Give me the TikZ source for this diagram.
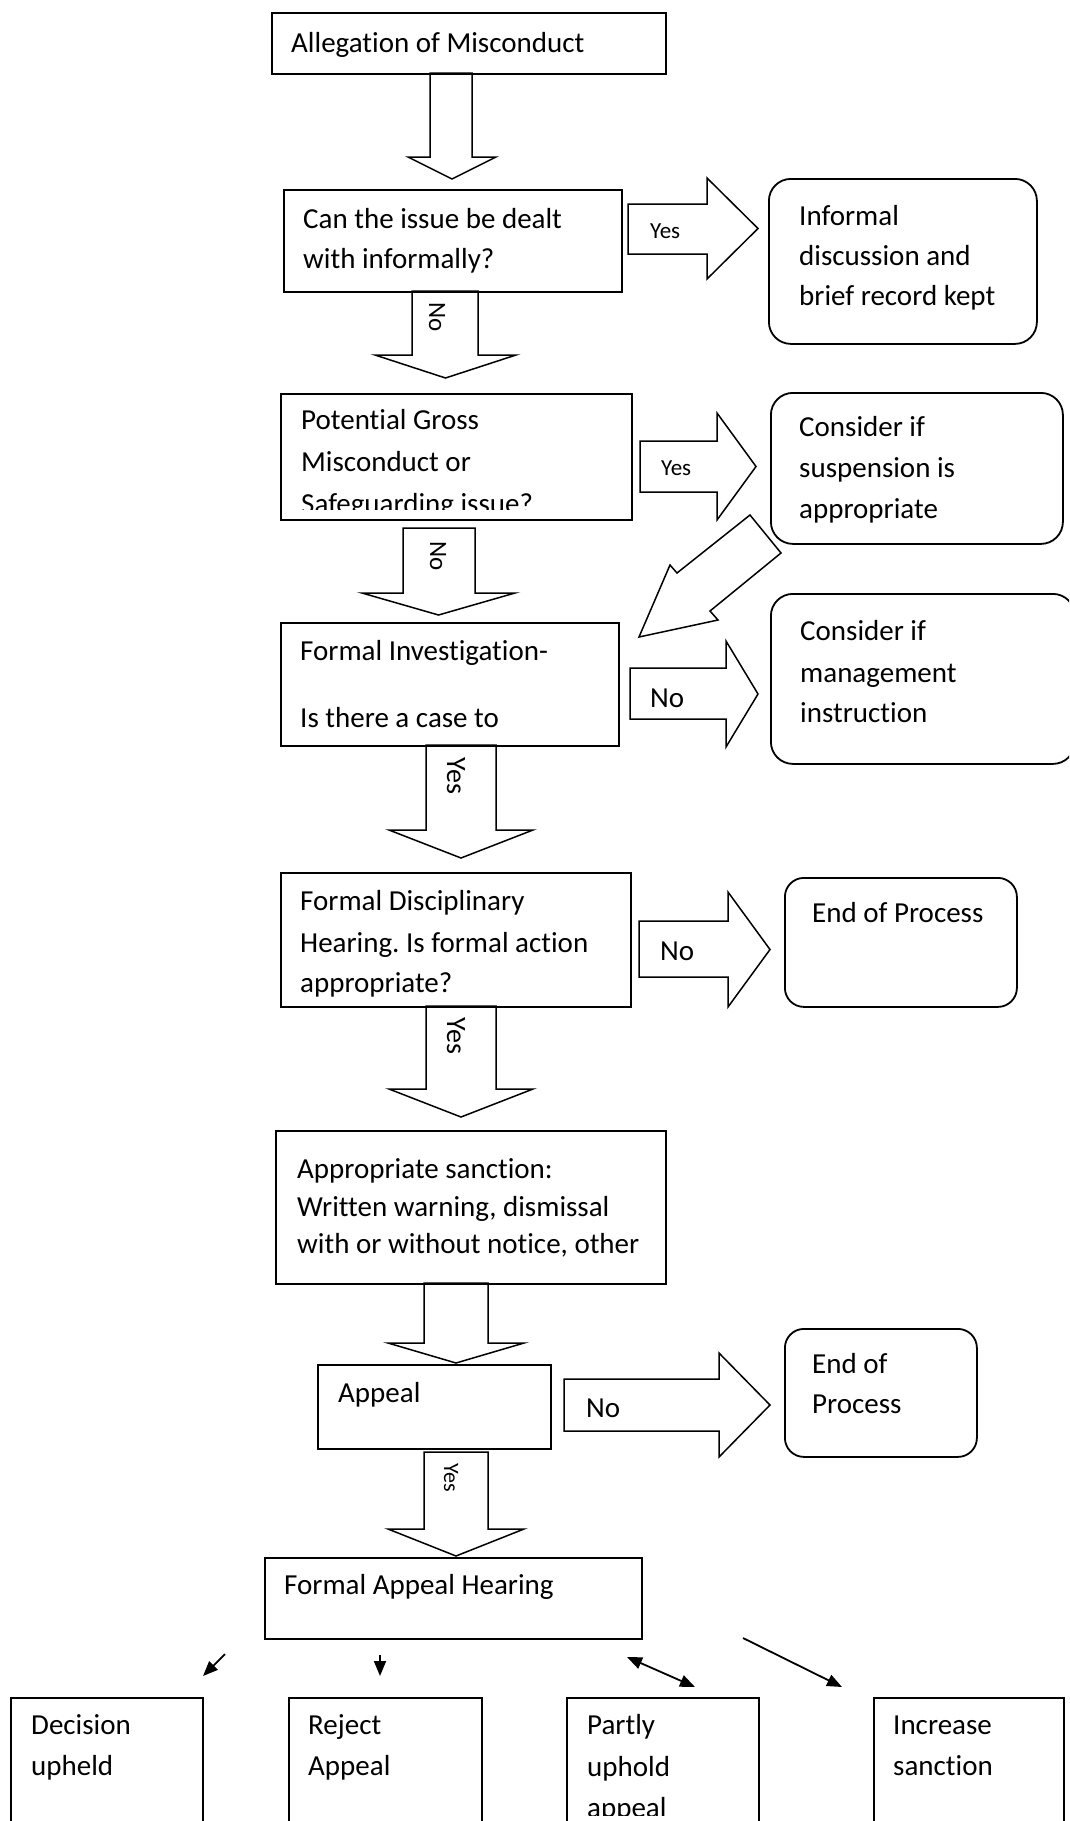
\documentclass[tikz,border=0pt]{standalone}
\usepackage{fontspec}
\setmainfont{Carlito}[Ligatures={NoCommon}]
\frenchspacing
\usetikzlibrary{arrows.meta}
\newcommand\blkdown[7]{\draw[barrow] (#1,#3) -- (#1,#4) -- (#5,#4) -- ({(#5+#6)/2},#7) -- (#6,#4) -- (#2,#4) -- (#2,#3) -- cycle;}
\newcommand\blkright[7]{\draw[barrow] (#1,#3) -- (#2,#3) -- (#2,#5) -- (#7,{(#5+#6)/2}) -- (#2,#6) -- (#2,#4) -- (#1,#4) -- cycle;}
\begin{document}
\begin{tikzpicture}[x=1pt,y=-1pt,
  box/.style={draw, line width=1.8pt, rectangle, inner sep=0pt, anchor=north west},
  rbox/.style={box, rounded corners=22pt},
  ebox/.style={box, rounded corners=19pt},
  txt/.style={anchor=base west, inner sep=0pt, font=\fontsize{29}{40}\selectfont},
  small/.style={anchor=base west, inner sep=0pt, font=\fontsize{23}{28}\selectfont},
  rot/.style={inner sep=0pt, rotate=-90},
  barrow/.style={draw, line width=1.5pt, line join=miter},
  conn/.style={line width=1.8pt, -{Triangle[length=15pt,width=12pt]}},
  conn2/.style={line width=1.8pt, {Triangle[length=15pt,width=12pt]}-{Triangle[length=15pt,width=12pt]}},
]
\clip (0,0) rectangle (1069,1821);
\fill[white] (0,0) rectangle (1069,1821);

% boxes
\node[box, minimum width=394pt, minimum height=61pt] (b1) at (271,12) {};
\node[box, minimum width=338pt, minimum height=102pt] (b2) at (283,189) {};
\node[rbox, minimum width=268pt, minimum height=165pt] (inf) at (768,178) {};
\node[box, minimum width=351pt, minimum height=126pt] (b3) at (280,393) {};
\node[rbox, minimum width=292pt, minimum height=151pt] (sus) at (770,392) {};
\node[box, minimum width=338pt, minimum height=123pt] (b4) at (280,622) {};
\node[rbox, minimum width=304pt, minimum height=170pt] (mgmt) at (770,593) {};
\node[box, minimum width=350pt, minimum height=134pt] (b5) at (280,872) {};
\node[ebox, minimum width=232pt, minimum height=129pt] (end1) at (784,877) {};
\node[box, minimum width=390pt, minimum height=153pt] (b6) at (275,1130) {};
\node[box, minimum width=233pt, minimum height=84pt] (b7) at (317,1364) {};
\node[ebox, minimum width=192pt, minimum height=128pt] (end2) at (784,1328) {};
\node[box, minimum width=377pt, minimum height=81pt] (b8) at (264,1557) {};
\node[box, minimum width=192pt, minimum height=160pt] (d1) at (10,1697) {};
\node[box, minimum width=193pt, minimum height=160pt] (d2) at (288,1697) {};
\node[box, minimum width=192pt, minimum height=160pt] (d3) at (566,1697) {};
\node[box, minimum width=190pt, minimum height=160pt] (d4) at (873,1697) {};

% texts
\node[txt] (t1) at (291,52) {Allegation of Misconduct};
\node[txt] (t2a) at (303,228) {Can the issue be dealt};
\node[txt] (t2b) at (303,268) {with informally?};
\node[txt] (ia) at (799,225) {Informal};
\node[txt] (ib) at (799,265) {discussion and};
\node[txt] (ic) at (799,305) {brief record kept};
\node[txt] (t3a) at (301,429) {Potential Gross};
\node[txt] (t3b) at (301,471) {Misconduct or};
\begin{scope}
\clip (282,480) rectangle (628,509);
\node[txt] (t3c) at (301,513) {Safeguarding issue?};
\end{scope}
\node[txt] (sa) at (799,436) {Consider if};
\node[txt] (sb) at (799,477) {suspension is};
\node[txt] (sc) at (799,518) {appropriate};
\node[txt] (t4a) at (300,660) {Formal Investigation-};
\node[txt] (t4b) at (300,727) {Is there a case to};
\node[txt] (ma) at (800,640) {Consider if};
\node[txt] (mb) at (800,682) {management};
\node[txt] (mc) at (800,722) {instruction};
\node[txt] (t5a) at (300,910) {Formal Disciplinary};
\node[txt] (t5b) at (300,952) {Hearing. Is formal action};
\node[txt] (t5c) at (300,992) {appropriate?};
\node[txt] (e1) at (812,922) {End of Process};
\node[txt] (t6a) at (297,1178) {Appropriate sanction:};
\node[txt] (t6b) at (297,1216) {Written warning, dismissal};
\node[txt] (t6c) at (297,1253) {with or without notice, other};
\node[txt] (t7) at (338,1402) {Appeal};
\node[txt] (e2a) at (812,1373) {End of};
\node[txt] (e2b) at (812,1413) {Process};
\node[txt] (t8) at (284,1594) {Formal Appeal Hearing};
\node[txt] (d1a) at (31,1734) {Decision};
\node[txt] (d1b) at (31,1775) {upheld};
\node[txt] (d2a) at (308,1734) {Reject};
\node[txt] (d2b) at (308,1775) {Appeal};
\node[txt] (d3a) at (587,1734) {Partly};
\node[txt] (d3b) at (587,1776) {uphold};
\begin{scope}
\clip (570,1790) rectangle (755,1815);
\node[txt] (d3c) at (587,1817) {appeal};
\end{scope}
\node[txt] (d4a) at (893,1734) {Increase};
\node[txt] (d4b) at (893,1775) {sanction};

% block arrows
\blkdown{430}{472}{73}{157}{408}{496}{179}
\blkright{628}{707}{204}{254}{178}{279}{758}
\blkdown{412}{478}{291}{355}{375}{516}{378}
\blkright{640}{717}{441}{492}{413}{520}{756}
\blkdown{403}{475}{528}{593}{362}{515}{615}
\draw[barrow] (750,515) -- (781,553) -- (710,611) -- (718,620) -- (639,637) -- (670,565) -- (677,573) -- cycle;
\blkright{630}{726}{668}{719}{641}{747}{758}
\blkdown{426}{496}{745}{830}{389}{533}{858}
\blkright{639}{728}{921}{977}{892}{1007}{770}
\blkdown{426}{496}{1006}{1089}{389}{533}{1117}
\blkdown{424}{488}{1283}{1343}{388}{524}{1363}
\blkright{564}{719}{1379}{1431}{1353}{1457}{770}
\blkdown{424}{488}{1452}{1529}{388}{524}{1556}

% arrow labels
\node[small] (y1) at (650,238) {Yes};
\node[small] (y2) at (661,475) {Yes};
\node[txt] (n4) at (650,707) {No};
\node[txt] (n5) at (660,960) {No};
\node[txt] (n7) at (586,1417) {No};
\node[rot, font=\fontsize{25}{30}\selectfont] (n2) at (437,317) {No};
\node[rot, font=\fontsize{25}{30}\selectfont] (n3) at (438,556) {No};
\node[rot, font=\fontsize{28}{34}\selectfont] (y5) at (456,776) {Yes};
\node[rot, font=\fontsize{28}{34}\selectfont] (y6) at (456,1036) {Yes};
\node[rot, font=\fontsize{22}{26}\selectfont] (y8) at (451,1478) {Yes};

% connectors
\coordinate (c1s) at (225,1654); \coordinate (c1e) at (203,1676);
\coordinate (c2s) at (380,1655); \coordinate (c2e) at (380,1676);
\coordinate (c3s) at (627,1657); \coordinate (c3e) at (695,1687);
\coordinate (c4s) at (743,1638); \coordinate (c4e) at (842,1687);
\draw[conn] (c1s) -- (c1e);
\draw[conn] (c2s) -- (c2e);
\draw[conn2] (c3s) -- (c3e);
\draw[conn] (c4s) -- (c4e);
\end{tikzpicture}
\end{document}
